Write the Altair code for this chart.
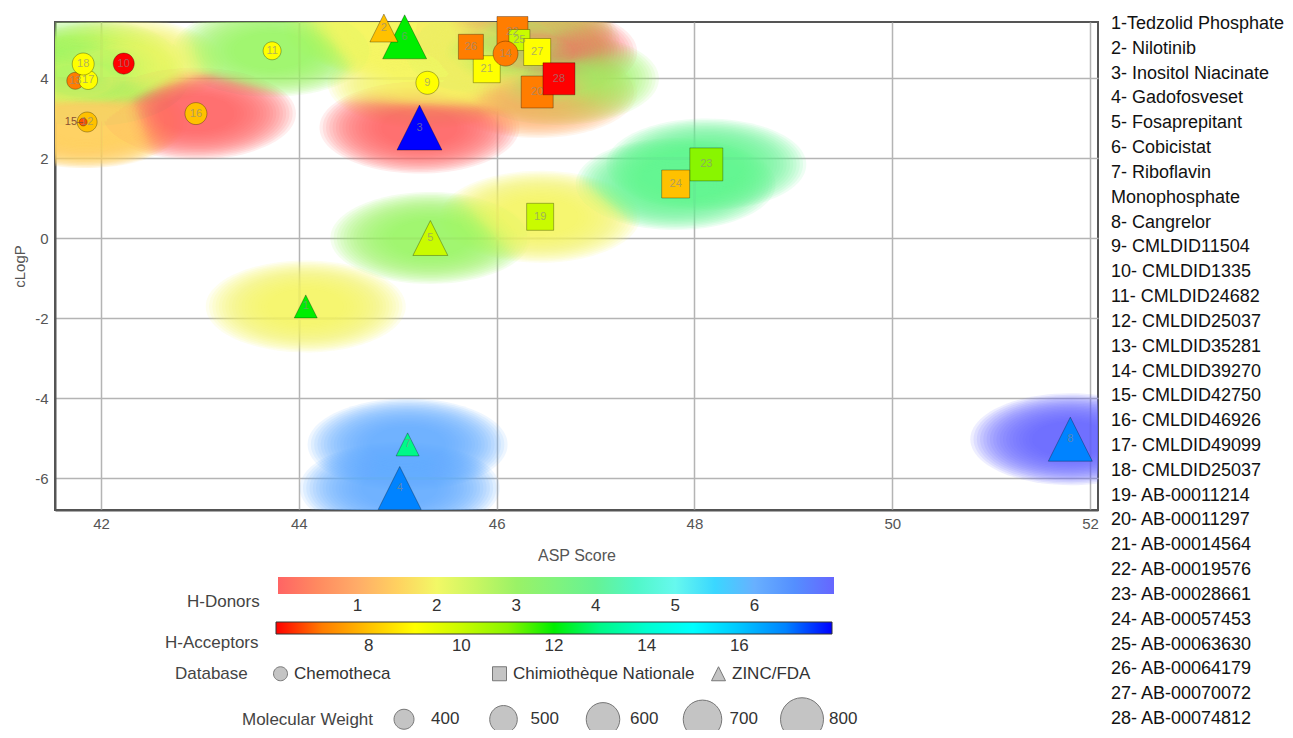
import altair as alt
import pandas as pd

FONT = "Liberation Sans"

# ---------------- data ----------------
ids = list(range(1, 29))
database = ["ZINC/FDA"] * 8 + ["Chemotheca"] * 10 + ["Chimiothèque Nationale"] * 10
asp_score = [44.07, 44.86, 45.22, 45.02, 45.33, 45.07, 45.10, 51.80,
             45.30, 42.23, 43.73, 41.86, 41.74, 46.09, 41.82, 42.96, 41.87, 41.82,
             46.44, 46.41, 45.90, 46.16, 48.12, 47.81, 46.23, 45.74, 46.41, 46.63]
clogp = [-1.71, 5.25, 2.76, -6.25, 0.00, 5.03, -5.16, -5.03,
         3.88, 4.36, 4.68, 2.90, 3.93, 4.61, 2.90, 3.11, 3.95, 4.35,
         0.53, 3.65, 4.22, 5.15, 1.84, 1.35, 4.95, 4.78, 4.65, 3.98]
h_donors = [2, 2, 0, 6, 3, 2, 6, 7,
            2, 2, 3, 1.5, 2, 3, 1.5, 0, 3, 3,
            2, 1, 2, 1, 4, 4, 3, 2, 0, 3]
h_acceptors = [12, 8, 18, 17, 10, 12, 13, 17,
               9, 6, 9, 8, 7, 7, 6.5, 8, 9, 9,
               10, 7, 9, 7, 11, 8, 10, 7, 9, 6]
mol_weight = [436, 506, 849, 800, 627, 824, 436, 824,
              436, 412, 379, 400, 369, 462, 307, 423, 389, 423,
              491, 572, 491, 555, 590, 506, 412, 462, 491, 572]

compound_names = ["1-Tedzolid Phosphate", "2- Nilotinib", "3- Inositol Niacinate",
                  "4- Gadofosveset", "5- Fosaprepitant", "6- Cobicistat",
                  "7- Riboflavin", "Monophosphate", "8- Cangrelor",
                  "9- CMLDID11504", "10- CMLDID1335", "11- CMLDID24682",
                  "12- CMLDID25037", "13- CMLDID35281", "14- CMLDID39270",
                  "15- CMLDID42750", "16- CMLDID46926", "17- CMLDID49099",
                  "18- CMLDID25037", "19- AB-00011214", "20- AB-00011297",
                  "21- AB-00014564", "22- AB-00019576", "23- AB-00028661",
                  "24- AB-00057453", "25- AB-00063630", "26- AB-00064179",
                  "27- AB-00070072", "28- AB-00074812"]

db_order = ["Chemotheca", "Chimiothèque Nationale", "ZINC/FDA"]
donor_stops = [0, 1, 2, 3, 4, 5, 6, 7]
donor_colors = ["#ff6464", "#ffac68", "#f2f866", "#9af266", "#66f294",
                "#66f8ee", "#68b0ff", "#6666ff"]
acceptor_stops = [6, 9, 12, 15, 18]
acceptor_colors = ["#ff0000", "#ffff00", "#00ee00", "#00ffff", "#0000ff"]
donor_ticks = [1, 2, 3, 4, 5, 6]
acceptor_ticks = [8, 10, 12, 14, 16]
mw_ticks = [400, 500, 600, 700, 800]
x_ticks = [42, 44, 46, 48, 50, 52]
y_ticks = [-6, -4, -2, 0, 2, 4]

# ---------------- tables ----------------
df = pd.DataFrame({"id": ids, "db": database, "asp": asp_score, "clogp": clogp,
                   "hbd": h_donors, "hba": h_acceptors, "mw": mol_weight})
rank = {"Chimiothèque Nationale": 0, "Chemotheca": 100, "ZINC/FDA": 300}
df["draw"] = [rank[d] + (i if d != "ZINC/FDA" else -i) for d, i in zip(df["db"], df["id"])]
df = df.sort_values("draw").reset_index(drop=True)
names_df = pd.DataFrame({"line": compound_names, "row": list(range(len(compound_names)))})

CIRCLE = "M-1,0A1,1,0,1,0,1,0A1,1,0,1,0,-1,0Z"
SQUARE = "M-1,-1H1V1H-1Z"
TRIANGLE = "M0,-1L1,1H-1Z"
ELLIPSE = "M-1,0A1,0.46,0,1,0,1,0A1,0.46,0,1,0,-1,0Z"

xenc = alt.X("asp:Q", title="ASP Score",
             scale=alt.Scale(domain=[41.535, 52.08], nice=False, zero=False),
             axis=alt.Axis(values=x_ticks, grid=True, gridColor="#b4b4b4", gridWidth=1.5,
                           ticks=False, labelPadding=6, labelFontSize=15, labelColor="#555",
                           labelFont=FONT, titleFont=FONT, titleFontSize=16, titleColor="#555",
                           titleFontWeight="normal", titlePadding=16,
                           domainColor="#555", domainWidth=2))
yenc = alt.Y("clogp:Q", title="cLogP",
             scale=alt.Scale(domain=[-6.8, 5.4], nice=False, zero=False),
             axis=alt.Axis(values=y_ticks, grid=True, gridColor="#b4b4b4", gridWidth=1.5,
                           ticks=False, labelPadding=7, labelFontSize=15, labelColor="#555",
                           labelExpr="datum.value + ''",
                           labelFont=FONT, titleFont=FONT, titleFontSize=15, titleColor="#555",
                           titleFontWeight="normal", titlePadding=7,
                           domainColor="#555", domainWidth=2))

fill_enc = alt.Fill("hbd:Q",
                    scale=alt.Scale(domain=donor_stops, range=donor_colors),
                    legend=alt.Legend(title="H-Donors", orient="none", legendX=132, legendY=555,
                                      direction="horizontal", gradientLength=556,
                                      gradientThickness=17, values=donor_ticks, format="d",
                                      titleOrient="left", titleAnchor="end",
                                      titleBaseline="top", titlePadding=18,
                                      gradientStrokeWidth=0, labelOffset=4))

base = alt.Chart(df)

halo_layers = []
steps = 20
for s in range(steps):
    k = 1.0 - 0.62 * s / (steps - 1)
    halo_layers.append(
        base.mark_point(shape=ELLIPSE, filled=True, opacity=1, fillOpacity=0.11,
                        strokeWidth=0, size=40000 * k * k, clip=True)
        .encode(x=xenc, y=yenc, fill=fill_enc)
    )

points = base.mark_point(filled=True, opacity=1, stroke="#000", strokeOpacity=0.3,
                         strokeWidth=1).encode(
    x=xenc, y=yenc,
    color=alt.Color("hba:Q", scale=alt.Scale(domain=acceptor_stops, range=acceptor_colors),
                    legend=alt.Legend(title="H-Acceptors", orient="none", legendX=110,
                                      legendY=600, direction="horizontal",
                                      gradientLength=556, gradientThickness=12,
                                      values=acceptor_ticks, titleOrient="left",
                                      titleAnchor="end", titleBaseline="top",
                                      titlePadding=17, gradientStrokeColor="#333",
                                      gradientStrokeWidth=1, labelOffset=4)),
    shape=alt.Shape("db:N", scale=alt.Scale(domain=db_order, range=[CIRCLE, SQUARE, TRIANGLE]),
                    legend=alt.Legend(title="Database", orient="none", legendX=120, legendY=643,
                                      direction="horizontal", columns=3, gridAlign="all",
                                      columnPadding=14, symbolSize=196,
                                      symbolFillColor="#c4c4c4", symbolStrokeColor="#777",
                                      symbolStrokeWidth=1, symbolOpacity=1, labelOffset=5,
                                      titleOrient="left", titleAnchor="middle",
                                      titleBaseline="middle", titlePadding=24)),
    size=alt.Size("mw:Q", scale=alt.Scale(type="linear", domain=[400, 800], range=[400, 1849],
                                          zero=False),
                  legend=alt.Legend(title="Molecular Weight", orient="none", legendX=187,
                                    legendY=675, direction="horizontal", columns=5,
                                    gridAlign="all", columnPadding=19.5, values=mw_ticks,
                                    symbolType=CIRCLE, symbolFillColor="#c4c4c4",
                                    symbolStrokeColor="#777", symbolStrokeWidth=1,
                                    symbolOpacity=1, labelOffset=5, titleOrient="left",
                                    titleAnchor="middle", titleBaseline="middle",
                                    titlePadding=8)),
)

labels = base.transform_filter("datum.id != 15").mark_text(
    font=FONT, fontSize=11, color="#8a8a8a", opacity=0.65).encode(
    x=xenc, y=yenc, text="id:N")
label15 = base.transform_filter("datum.id == 15").mark_text(
    font=FONT, fontSize=11, color="#8a5030", align="right", dx=0).encode(
    x=xenc, y=yenc, text=alt.value("15\u2013"))

main = alt.layer(*halo_layers, points, labels, label15)

names_layer = alt.Chart(names_df).mark_text(
    align="left", baseline="middle", font=FONT, fontSize=18, color="#111").encode(
    x=alt.value(1056),
    y=alt.Y("row:Q", scale=alt.Scale(domain=[0, len(compound_names) - 1], range=[2, 697]),
            axis=None),
    text="line:N")

chart = alt.layer(main, names_layer).resolve_scale(y="independent").properties(
    width=1043, height=488,
    padding={"left": 47, "top": 14, "right": 186, "bottom": 220},
    autosize=alt.AutoSizeParams(type="none"),
).configure_view(stroke="#555", strokeWidth=2).configure_legend(
    titleFont=FONT, labelFont=FONT, titleFontSize=17, labelFontSize=17,
    titleFontWeight="normal", titleColor="#444", labelColor="#333", titleLimit=400,
    labelLimit=400)

chart.save("out.html", embed_options={"renderer": "svg", "actions": False})
